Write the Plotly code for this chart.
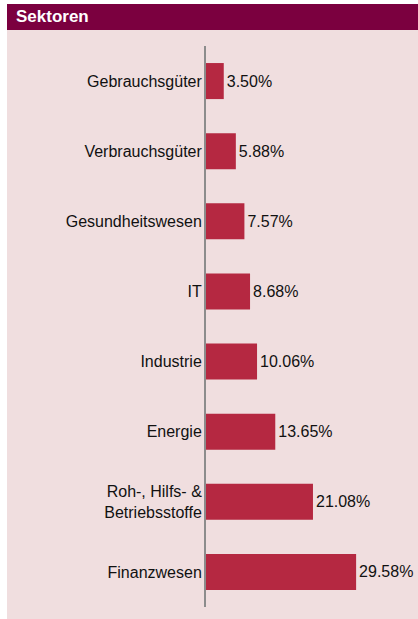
import plotly.graph_objects as go

categories = ["Gebrauchsgüter", "Verbrauchsgüter", "Gesundheitswesen", "IT",
              "Industrie", "Energie", "Roh-, Hilfs- &<br>Betriebsstoffe", "Finanzwesen"]
values = [3.50, 5.88, 7.57, 8.68, 10.06, 13.65, 21.08, 29.58]
labels = [f"{v:.2f}%" for v in values]
title_text = "Sektoren"

W, H = 418, 619
L, R, T, B = 206, 8, 46, 12
pw, ph = W - L - R, H - T - B

def px_x(x):
    return (x - L) / pw

def px_y(y):
    return (H - B - y) / ph

FONT = "Arial, Liberation Sans, sans-serif"

fig = go.Figure(go.Bar(
    x=values, y=categories, orientation="h",
    marker=dict(color="#B52841", line=dict(width=0)),
    text=labels, textposition="outside", cliponaxis=False,
    constraintext="none",
    textfont=dict(family=FONT, size=16, color="#111111"),
    hoverinfo="skip",
))

fig.update_layout(
    width=W, height=H,
    margin=dict(l=L, r=R, t=T, b=B, autoexpand=False),
    paper_bgcolor="white", plot_bgcolor="rgba(0,0,0,0)",
    showlegend=False, bargap=0.486,
    font=dict(family=FONT, size=16, color="#111111"),
    xaxis=dict(range=[0, 40.2], visible=False, fixedrange=True),
    yaxis=dict(autorange="reversed", showgrid=False, zeroline=False,
               showline=True, linecolor="#8C8C8C", linewidth=2,
               ticks="", ticklabelstandoff=-1, automargin=False,
               tickfont=dict(family=FONT, size=16, color="#111111")),
    shapes=[
        dict(type="rect", xref="paper", yref="paper", layer="below",
             x0=px_x(7), x1=px_x(420), y0=px_y(621), y1=px_y(30),
             fillcolor="#F0DEDF", line=dict(width=0)),
        dict(type="rect", xref="paper", yref="paper", layer="below",
             x0=px_x(7), x1=px_x(420), y0=px_y(30), y1=px_y(4),
             fillcolor="#7B003F", line=dict(width=0)),
    ],
    annotations=[
        dict(text=f"<b>{title_text}</b>", xref="paper", yref="paper",
             x=px_x(14), y=px_y(17), xanchor="left", yanchor="middle",
             showarrow=False, font=dict(family=FONT, size=17, color="white")),
    ],
)

fig.write_html("out.html", config={"displayModeBar": False},
               post_script="document.body.style.margin='0';document.body.style.overflow='hidden';")
